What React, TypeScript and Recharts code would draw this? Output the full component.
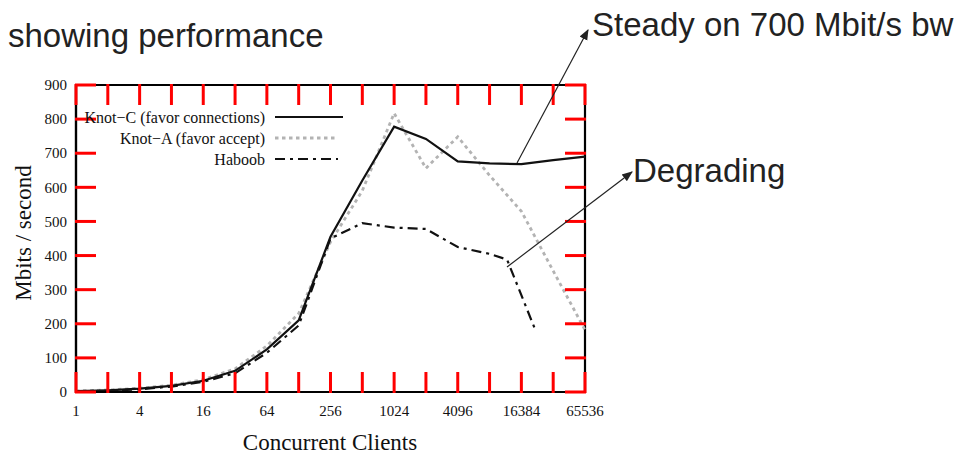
import { LineChart, Line, XAxis, YAxis, Legend, ReferenceArea } from "recharts";

// concurrent clients (log2 axis)
const clients = [1, 2, 4, 8, 16, 32, 64, 128, 256, 512, 1024, 2048, 4096, 8192, 16384, 32768, 65536];
const knotC = [3, 5, 10, 18, 33, 62, 125, 210, 455, 620, 778, 742, 676, 670, 668, 680, 690];
const knotA = [3, 6, 11, 20, 36, 68, 135, 230, 440, 590, 817, 656, 748, 635, 530, 355, 182];
const haboobClients = [1, 2, 4, 8, 16, 32, 64, 128, 256, 512, 1024, 2048, 4096, 8192, 12000, 22000];
const haboob = [2, 4, 8, 16, 30, 55, 115, 195, 450, 495, 482, 478, 425, 405, 388, 185];
const yTicks = [0, 100, 200, 300, 400, 500, 600, 700, 800, 900];
const seriesNames = ["Knot\u2212C (favor connections)", "Knot\u2212A (favor accept)", "Haboob"];

const toRows = (xs: number[], ys: number[]) => xs.map((x, i) => ({ clients: x, value: ys[i] }));

const serif = "'Liberation Serif', 'Times New Roman', serif";
const sans = "'Liberation Sans', Arial, sans-serif";
const ink = "#000";

// chart layout
const W = 966;
const H = 455;
const margin = { top: 85, right: 381, bottom: 33, left: 26 };
const xAxisH = 30;
const yAxisW = 50;
const plotW = W - margin.left - margin.right - yAxisW;
const plotH = H - margin.top - margin.bottom - xAxisH;
const tickLen = 20;
const xGap = 13;
const yGap = 9;

const lineStyles = [
  { stroke: "#111", strokeWidth: 2.2, dash: undefined as string | undefined },
  { stroke: "#b3b3b3", strokeWidth: 2.8, dash: "3.5 3.5" },
  { stroke: "#111", strokeWidth: 2.2, dash: "10 5 3 5" },
];

const xLabel = (v: number) => (Math.round(Math.log2(v)) % 2 === 0 ? String(v) : "");

function XTick(props: any) {
  const { x, y, payload } = props;
  const base = y - xGap;
  const top = base - plotH;
  return (
    <g>
      <line x1={x} x2={x} y1={base + 1} y2={base - tickLen} stroke="red" strokeWidth={3} />
      <line x1={x} x2={x} y1={top - 1} y2={top + tickLen} stroke="red" strokeWidth={3} />
      <text x={x} y={y} dy="0.71em" textAnchor="middle" fontFamily={serif} fontSize={15} fill="#111">
        {xLabel(payload.value)}
      </text>
    </g>
  );
}

function YTick(props: any) {
  const { x, y, payload } = props;
  const base = x + yGap;
  const right = base + plotW;
  return (
    <g>
      <line x1={base - 1} x2={base + tickLen} y1={y} y2={y} stroke="red" strokeWidth={3} />
      <line x1={right + 1} x2={right - tickLen} y1={y} y2={y} stroke="red" strokeWidth={3} />
      <text x={x} y={y} dy="0.35em" textAnchor="end" fontFamily={serif} fontSize={15} fill="#111">
        {payload.value}
      </text>
    </g>
  );
}

function LegendBox() {
  return (
    <svg width={290} height={64}>
      {seriesNames.map((name, i) => {
        const y = 12 + i * 21;
        const s = lineStyles[i];
        return (
          <g key={name}>
            <text x={185} y={y} dy="0.35em" textAnchor="end" fontFamily={serif} fontSize={16} fill="#111">
              {name}
            </text>
            <line x1={195} x2={i === 0 ? 263 : 258} y1={y} y2={y} stroke={s.stroke} strokeWidth={s.strokeWidth} strokeDasharray={s.dash} />
          </g>
        );
      })}
    </svg>
  );
}

export default function App() {
  return (
    <div style={{ position: "absolute", left: 0, top: 0, width: W, height: H, background: "#fff" }}>
      <LineChart width={W} height={H} margin={margin}>
        <ReferenceArea x1={1} x2={65536} y1={0} y2={900} fill="none" stroke={ink} strokeWidth={2.2} />
        <XAxis
          dataKey="clients"
          type="number"
          scale="log"
          domain={[1, 65536]}
          ticks={clients}
          interval={0}
          height={xAxisH}
          tickSize={0}
          tickMargin={xGap}
          axisLine={{ stroke: ink, strokeWidth: 2.2 }}
          tickLine={false}
          tick={<XTick />}
        />
        <YAxis
          type="number"
          domain={[0, 900]}
          ticks={yTicks}
          interval={0}
          width={yAxisW}
          tickSize={0}
          tickMargin={yGap}
          axisLine={{ stroke: ink, strokeWidth: 2.2 }}
          tickLine={false}
          tick={<YTick />}
        />
        <Legend
          layout="vertical"
          align="center"
          verticalAlign="middle"
          content={() => <LegendBox />}
          wrapperStyle={{ position: "absolute", left: 80, top: 105, width: 290, height: 64 }}
        />
        <Line data={toRows(clients, knotA)} dataKey="value" name={seriesNames[1]} type="linear" dot={false} stroke={lineStyles[1].stroke} strokeWidth={lineStyles[1].strokeWidth} strokeDasharray={lineStyles[1].dash} isAnimationActive={false} />
        <Line data={toRows(haboobClients, haboob)} dataKey="value" name={seriesNames[2]} type="linear" dot={false} stroke={lineStyles[2].stroke} strokeWidth={lineStyles[2].strokeWidth} strokeDasharray={lineStyles[2].dash} isAnimationActive={false} />
        <Line data={toRows(clients, knotC)} dataKey="value" name={seriesNames[0]} type="linear" dot={false} stroke={lineStyles[0].stroke} strokeWidth={lineStyles[0].strokeWidth} isAnimationActive={false} />
      </LineChart>

      {/* axis titles and slide annotations */}
      <svg width={W} height={H} style={{ position: "absolute", left: 0, top: 0, pointerEvents: "none" }}>
        <defs>
          <marker id="head" viewBox="0 0 10 10" refX="9" refY="5" markerWidth="9" markerHeight="9" orient="auto-start-reverse">
            <path d="M0,1 L10,5 L0,9 z" fill="#222" />
          </marker>
        </defs>
        <text x={23} y={233} transform="rotate(-90 23 233)" dy="0.35em" textAnchor="middle" fontFamily={serif} fontSize={23} fill="#111">
          Mbits / second
        </text>
        <text x={330} y={442} dy="0.35em" textAnchor="middle" fontFamily={serif} fontSize={23} fill="#111">
          Concurrent Clients
        </text>
        <text x={8} y={47} fontFamily={sans} fontSize={33} fill="#222">
          showing performance
        </text>
        <text x={592} y={36} fontFamily={sans} fontSize={33} fill="#222">
          Steady on 700 Mbit/s bw
        </text>
        <text x={633} y={182} fontFamily={sans} fontSize={33} fill="#222">
          Degrading
        </text>
        <line x1={517} y1={163} x2={588} y2={30} stroke="#222" strokeWidth={1.2} markerEnd="url(#head)" />
        <line x1={507} y1={267} x2={632} y2={172} stroke="#222" strokeWidth={1.2} markerEnd="url(#head)" />
      </svg>
    </div>
  );
}
